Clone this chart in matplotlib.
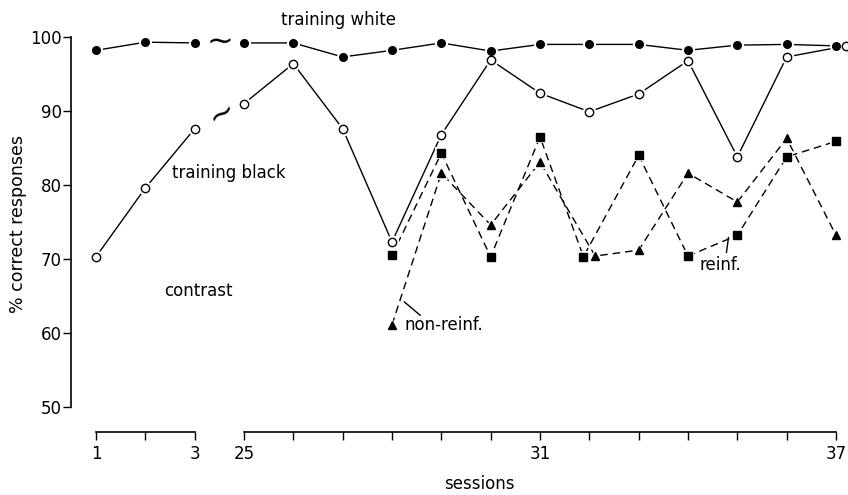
import numpy as np
import matplotlib
matplotlib.use("Agg")
import matplotlib.pyplot as plt

# sessions shown on the axis (gap between 3 and 25)
sessions = [1, 2, 3, 25, 26, 27, 28, 29, 30, 31, 32, 33, 34, 35, 36, 37]
tick_labels = {1: "1", 3: "3", 25: "25", 31: "31", 37: "37"}

training_white = [98.2, 99.3, 99.2, 99.2, 99.2, 97.3, 98.2, 99.2,
                  98.1, 99.0, 99.0, 99.0, 98.2, 98.9, 99.0, 98.8]
training_black = [70.3, 79.6, 87.6, 91.0, 96.4, 87.6, 72.3, 86.8,
                  96.9, 92.4, 89.9, 92.3, 96.8, 83.8, 97.3, 98.8]

contrast_sessions = [28, 29, 30, 31, 32, 33, 34, 35, 36, 37]
reinf = [70.5, 84.3, 70.3, 86.5, 70.3, 84.0, 70.4, 73.2, 83.8, 85.9]
non_reinf = [61.1, 81.6, 74.6, 83.1, 70.4, 71.2, 81.6, 77.7, 86.3, 73.2]

plt.rcParams["font.family"] = ["DejaVu Sans"]

pos = {s: i for i, s in enumerate(sessions)}
x_all = np.array([pos[s] for s in sessions], dtype=float)
x_con = np.array([pos[s] for s in contrast_sessions], dtype=float)

fig = plt.figure(figsize=(8.48, 4.95), dpi=100)
ax = fig.add_axes([71 / 848, 88 / 495, 777 / 848, 370 / 495])
ax.set_xlim(-0.507, 15.243)
ax.set_ylim(50, 100)

lw = 1.0
fs = 12
halo = dict(color="white", linestyle="none", zorder=3, clip_on=False)


def series(x, y, marker, ms, face, dashed=False, split=None):
    ls = (0, (5.5, 3.5)) if dashed else "-"
    parts = [(x, y)] if split is None else [(x[:split], y[:split]), (x[split:], y[split:])]
    for px, py in parts:
        ax.plot(px, py, color="black", lw=lw, linestyle=ls, zorder=2, clip_on=False)
    ax.plot(x, y, marker=marker, ms=ms + 4, mew=0, **halo)
    ax.plot(x, y, marker=marker, ms=ms, mfc=face, mec="black", mew=1.0,
            linestyle="none", zorder=4, clip_on=False)


# small display nudges where markers would sit on top of each other
xb = x_all.copy()
xb[-1] += 0.2
xr = x_con.copy()
xr[4] -= 0.12
xn = x_con.copy()
xn[4] += 0.12

series(x_all, np.array(training_white), "o", 5.5, "black", split=3)
series(xb, np.array(training_black), "o", 6, "white", split=3)
series(xr, np.array(reinf), "s", 5.2, "black", dashed=True)
series(xn, np.array(non_reinf), "^", 6.3, "black", dashed=True)

# break marks
ax.text(2.52, 99.2, "~", fontsize=23, ha="center", va="center")
ax.text(2.56, 89.6, "~", fontsize=23, ha="center", va="center", rotation=32)

# labels inside the plot
ax.text(4.91, 102.3, "training white", fontsize=fs, ha="center", va="center")
ax.text(1.54, 81.6, "training black", fontsize=fs, ha="left", va="center")
ax.text(1.38, 65.7, "contrast", fontsize=fs, ha="left", va="center")
ax.text(6.26, 61.1, "non-reinf.", fontsize=fs, ha="left", va="center")
ax.plot([6.25, 6.57], [64.2, 62.4], color="black", lw=lw)
ax.text(12.24, 69.2, "reinf.", fontsize=fs, ha="left", va="center")
ax.plot([12.82, 12.78], [72.9, 70.9], color="black", lw=lw)

# y axis
ax.spines["top"].set_visible(False)
ax.spines["right"].set_visible(False)
ax.spines["left"].set_linewidth(1.2)
ax.set_yticks([50, 60, 70, 80, 90, 100])
ax.tick_params(axis="y", direction="out", length=5.5, width=1.0, pad=1, labelsize=fs)
ax.set_ylabel("% correct responses", fontsize=12.5)
ax.yaxis.set_label_coords(-0.056, 0.495)

# broken x axis
ax.spines["bottom"].set_position(("outward", 18))
ax.spines["bottom"].set_color("none")
ax.set_xticks(x_all)
ax.set_xticklabels([tick_labels.get(s, "") for s in sessions])
ax.tick_params(axis="x", direction="out", length=5.5, width=1.0, pad=4, labelsize=fs)
ybase = -25 / 370
trans = ax.get_xaxis_transform()
ax.plot([pos[1], pos[3]], [ybase, ybase], color="black", lw=1.2, transform=trans, clip_on=False)
ax.plot([pos[25], pos[37]], [ybase, ybase], color="black", lw=1.2, transform=trans, clip_on=False)
ax.set_xlabel("sessions", fontsize=fs, va="center")
ax.xaxis.set_label_coords(0.526, -0.208)

fig.savefig("out.png", dpi=100)
